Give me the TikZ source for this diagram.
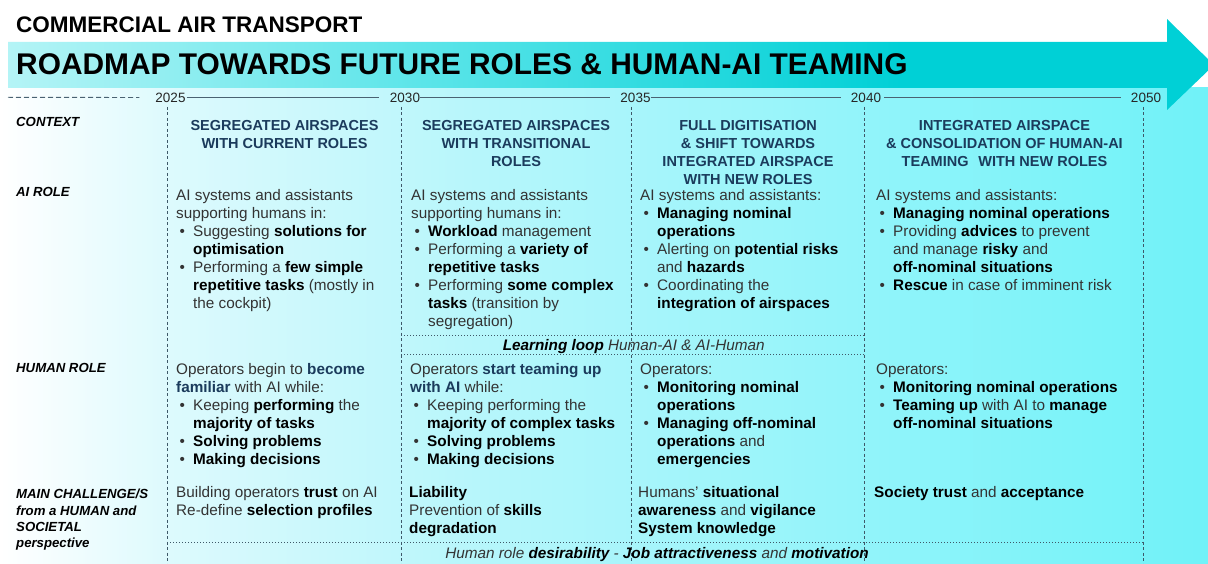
\documentclass[tikz,border=0pt]{standalone}
\usepackage{fontspec}
\setmainfont{Liberation Sans}
\usetikzlibrary{calc}
\definecolor{navy}{HTML}{1B3B5C}
\definecolor{bodytxt}{HTML}{333333}
\definecolor{tline}{HTML}{4A6272}
\definecolor{dline}{HTML}{3E5868}
\definecolor{bandA}{HTML}{B4F4F6}
\definecolor{bandB}{HTML}{5CE5E9}
\definecolor{bandC}{HTML}{00D0D6}
\definecolor{bgA}{HTML}{FFFFFF}
\definecolor{bgB}{HTML}{DDFAFD}
\definecolor{bgC}{HTML}{B6F6FB}
\definecolor{bgD}{HTML}{8FF4FA}
\definecolor{bgE}{HTML}{70F2F8}
\pgfdeclarehorizontalshading{bandsh}{100bp}{color(0bp)=(bandA); color(25bp)=(bandA); color(42bp)=(bandB); color(62bp)=(bandC); color(100bp)=(bandC)}
\pgfdeclarehorizontalshading{bgsh}{100bp}{color(0bp)=(bgA); color(25bp)=(bgA); color(32bp)=(bgB); color(45bp)=(bgC); color(62bp)=(bgD); color(75bp)=(bgE); color(100bp)=(bgE)}
\newcommand\bb[1]{{\bfseries\color{black}#1}}
\newcommand\nbf[1]{{\bfseries\color{navy}#1}}
\newcommand\bu{\makebox[17pt][l]{\hspace{3.5pt}\textbullet}}
\newcommand\ml[1]{\multicolumn{2}{@{}l@{}}{#1}}
\begin{document}
\begin{tikzpicture}[x=1pt,y=-1pt,
  cell/.style={anchor=north west, inner sep=0, font=\fontsize{15.3}{18}\selectfont, text=bodytxt},
  hdr/.style={anchor=north, inner sep=0, font=\fontsize{14.5}{17.8}\selectfont\bfseries, text=navy},
  lbl/.style={anchor=north west, inner sep=0, font=\fontsize{13.2}{16.4}\selectfont\bfseries\itshape, text=black},
  year/.style={inner sep=0, font=\fontsize{13.5}{13.5}\selectfont, text=black!85},
  tl/.style={draw=tline, line width=0.9pt},
  vdash/.style={draw=dline, line width=0.8pt, dash pattern=on 3pt off 2.5pt},
  hdot/.style={draw=dline, line width=0.8pt, dash pattern=on 1pt off 2pt},
  band/.style={shading=bandsh}
]
\useasboundingbox (0,0) rectangle (1208,564);
\fill[white] (0,0) rectangle (1208,564);
\shade[shading=bgsh] (0,88) rectangle (1208,564);
\shade[band] (8,42) -- (1167,42) -- (1167,19) -- (1214,65) -- (1167,110) -- (1167,88) -- (8,88) -- cycle;

% titles
\node[anchor=base west, inner sep=0, font=\fontsize{22.5}{22.5}\selectfont\bfseries] (t1) at (16,32.3) {COMMERCIAL AIR TRANSPORT};
\node[anchor=base west, inner sep=0, font=\fontsize{29.9}{30}\selectfont\bfseries] (t2) at (16,75) {ROADMAP TOWARDS FUTURE ROLES \& HUMAN-AI TEAMING};

% timeline
\node[year] (y25) at (170.5,97.5) {2025};
\node[year] (y30) at (405,97.5) {2030};
\node[year] (y35) at (635.5,97.5) {2035};
\node[year] (y40) at (866,97.5) {2040};
\node[year] (y50) at (1146,97.5) {2050};
\coordinate (tstart) at (8,97.3);
\draw[tl, dash pattern=on 5pt off 3pt] (tstart) -- ([xshift=-16pt]y25.west);
\draw[tl] ([xshift=1pt]y25.east) -- ([xshift=-11pt]y30.west);
\draw[tl] (y30.east) -- ([xshift=-10pt]y35.west);
\draw[tl] (y35.east) -- ([xshift=-10pt]y40.west);
\draw[tl] ([xshift=3pt]y40.east) -- ([xshift=-10pt]y50.west);

% vertical dashed lines
\foreach \x in {167,401,631,864,1143} \draw[vdash] (\x,107) -- (\x,564);

% dotted lines
\draw[hdot] (401,335) -- (864,335);
\draw[hdot] (401,354.5) -- (864,354.5);
\draw[hdot] (167,542) -- (1143,542);

% row labels
\node[lbl] (lctx) at (16,116.8) {CONTEXT};
\node[lbl] (lai) at (16,186.8) {AI ROLE};
\node[lbl] (lhum) at (16,363.1) {HUMAN ROLE};
\node[lbl] (lch) at (16,487.1) {\begin{tabular}{@{}l@{}}MAIN CHALLENGE/S\\from a HUMAN and\\SOCIETAL\\perspective\end{tabular}};

% headers
\node[hdr] (h1) at (284.5,118.2) {\begin{tabular}{@{}c@{}}SEGREGATED AIRSPACES\\WITH CURRENT ROLES\end{tabular}};
\node[hdr] (h2) at (516,118.2) {\begin{tabular}{@{}c@{}}SEGREGATED AIRSPACES\\WITH TRANSITIONAL\\ROLES\end{tabular}};
\node[hdr] (h3) at (748,118.2) {\begin{tabular}{@{}c@{}}FULL DIGITISATION\\\& SHIFT TOWARDS\\INTEGRATED AIRSPACE\\WITH NEW ROLES\end{tabular}};
\node[hdr] (h4) at (1004.5,118.2) {\begin{tabular}{@{}c@{}}INTEGRATED AIRSPACE\\\& CONSOLIDATION OF HUMAN-AI\\TEAMING\hspace{0.4em} WITH NEW ROLES\end{tabular}};

% AI role
\node[cell] (a1) at (176,187.4) {\begin{tabular}{@{}l@{}l@{}}
\ml{AI systems and assistants}\\
\ml{supporting humans in:}\\
\bu & Suggesting \bb{solutions for}\\
 & \bb{optimisation}\\
\bu & Performing a \bb{few simple}\\
 & \bb{repetitive tasks} (mostly in\\
 & the cockpit)
\end{tabular}};
\node[cell] (a2) at (411,187.4) {\begin{tabular}{@{}l@{}l@{}}
\ml{AI systems and assistants}\\
\ml{supporting humans in:}\\
\bu & \bb{Workload} management\\
\bu & Performing a \bb{variety of}\\
 & \bb{repetitive tasks}\\
\bu & Performing \bb{some complex}\\
 & \bb{tasks} (transition by\\
 & segregation)
\end{tabular}};
\node[cell] (a3) at (640,187.4) {\begin{tabular}{@{}l@{}l@{}}
\ml{AI systems and assistants:}\\
\bu & \bb{Managing nominal}\\
 & \bb{operations}\\
\bu & Alerting on \bb{potential risks}\\
 & and \bb{hazards}\\
\bu & Coordinating the\\
 & \bb{integration of airspaces}
\end{tabular}};
\node[cell] (a4) at (876,187.4) {\begin{tabular}{@{}l@{}l@{}}
\ml{AI systems and assistants:}\\
\bu & \bb{Managing nominal operations}\\
\bu & Providing \bb{advices} to prevent\\
 & and manage \bb{risky} and\\
 & \bb{off-nominal situations}\\
\bu & \bb{Rescue} in case of imminent risk
\end{tabular}};

% learning loop
\node[anchor=base, inner sep=0, font=\fontsize{15.3}{18}\selectfont\itshape, text=bodytxt] (loop) at (633.7,350) {\bb{Learning loop} Human-AI \& AI-Human};

% human role
\node[cell] (m1) at (176,361.4) {\begin{tabular}{@{}l@{}l@{}}
\ml{Operators begin to \nbf{become}}\\
\ml{\nbf{familiar} with AI while:}\\
\bu & Keeping \bb{performing} the\\
 & \bb{majority of tasks}\\
\bu & \bb{Solving problems}\\
\bu & \bb{Making decisions}
\end{tabular}};
\node[cell] (m2) at (410,361.4) {\begin{tabular}{@{}l@{}l@{}}
\ml{Operators \nbf{start teaming up}}\\
\ml{\nbf{with AI} while:}\\
\bu & Keeping performing the\\
 & \bb{majority of complex tasks}\\
\bu & \bb{Solving problems}\\
\bu & \bb{Making decisions}
\end{tabular}};
\node[cell] (m3) at (640,361.4) {\begin{tabular}{@{}l@{}l@{}}
\ml{Operators:}\\
\bu & \bb{Monitoring nominal}\\
 & \bb{operations}\\
\bu & \bb{Managing off-nominal}\\
 & \bb{operations} and\\
 & \bb{emergencies}
\end{tabular}};
\node[cell] (m4) at (876,361.4) {\begin{tabular}{@{}l@{}l@{}}
\ml{Operators:}\\
\bu & \bb{Monitoring nominal operations}\\
\bu & \bb{Teaming up} with AI to \bb{manage}\\
 & \bb{off-nominal situations}
\end{tabular}};

% challenges
\node[cell] (c1) at (176,484.4) {\begin{tabular}{@{}l@{}}
Building operators \bb{trust} on AI\\
Re-define \bb{selection profiles}
\end{tabular}};
\node[cell] (c2) at (409,484.4) {\begin{tabular}{@{}l@{}}
\bb{Liability}\\
Prevention of \bb{skills}\\
\bb{degradation}
\end{tabular}};
\node[cell] (c3) at (638,484.4) {\begin{tabular}{@{}l@{}}
Humans' \bb{situational}\\
\bb{awareness} and \bb{vigilance}\\
\bb{System knowledge}
\end{tabular}};
\node[cell] (c4) at (874,484.4) {\begin{tabular}{@{}l@{}}
\bb{Society trust} and \bb{acceptance}
\end{tabular}};

% bottom line
\node[anchor=base, inner sep=0, font=\fontsize{15.3}{18}\selectfont\itshape, text=bodytxt] (des) at (657,558.5) {Human role \bb{desirability} - \bb{Job attractiveness} and \bb{motivation}};
\end{tikzpicture}
\end{document}
